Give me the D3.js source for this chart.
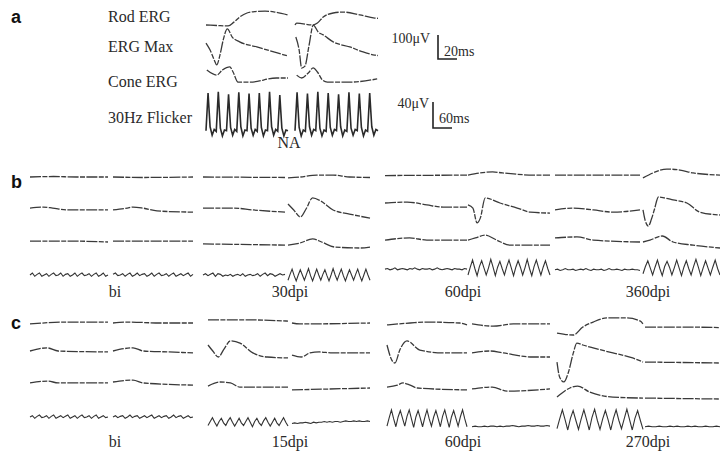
<!DOCTYPE html>
<html>
<head>
<meta charset="utf-8">
<script src="https://d3js.org/d3.v7.min.js"></script>
<style>
  body { margin: 0; background: #fff; }
  text { font-family: "Liberation Serif", "Times New Roman", serif; fill: #2a2a2a; }
  text.panel { font-family: "Liberation Sans", Arial, sans-serif; font-weight: bold; fill: #111; }
  path.erg { fill: none; stroke: #3a3a3a; stroke-width: 1.3; stroke-dasharray: 11,1.4,5,1.4; }
  path.flk { fill: none; stroke: #333; stroke-width: 1.1; }
  path.flk.big { stroke-width: 1.6; stroke: #2a2a2a; }
</style>
</head>
<body>
<script>
// ---------- data ----------
var rowLabels = ["Rod ERG", "ERG Max", "Cone ERG", "30Hz Flicker"];
var bGroups = ["bi", "30dpi", "60dpi", "360dpi"];
var cGroups = ["bi", "15dpi", "60dpi", "270dpi"];
var scaleText = ["100\u03bcV", "20ms", "40\u03bcV", "60ms"];

// ERG traces: [time %, \u03bcV]; flicker traces: \u03bcV samples at equal steps
var aRod = [
  [[0,0],[13,-2],[27,-4],[34,12],[41,33],[50,50],[60,56],[72,58],[84,54],[100,42]],
  [[0,0],[2,8],[22,0],[27,8],[34,33],[46,50],[58,54],[78,42],[96,29],[100,28]]
];
var aMax = [
  [[0,8],[5,-21],[10,-62],[13,-83],[17,-42],[21,21],[26,67],[32,33],[41,13],[62,-8],[87,-33],[100,-46]],
  [[1,33],[5,-21],[8,-96],[12,-88],[17,0],[22,83],[28,54],[34,42],[46,13],[66,-8],[82,-29],[96,-42],[100,-44]]
];
var aCone = [
  [[1,8],[13,-13],[20,8],[29,21],[33,0],[39,-42],[54,-42],[86,-25],[100,-25]],
  [[2,-13],[8,-25],[16,-4],[22,17],[27,0],[33,-33],[39,-42],[66,-42],[99,-29]]
];
var aFlicker = [
  [2,60,8,-5,4, 1,62,6,-6,3, 2,58,7,-5,4, 1,61,8,-6,3, 2,59,6,-5,4, 1,60,7,-6,3, 2,62,8,-5,4, 1,57,6,-6,3, 2],
  [2,61,7,-6,3, 1,59,8,-5,4, 2,62,6,-6,3, 1,60,7,-5,4, 2,58,8,-6,3, 1,61,6,-5,4, 2,59,7,-6,3, 1,60,8,-5,4, 2]
];

var bRod = [
  [[0,0],[30,2],[60,0],[100,0]],
  [[0,0],[40,-2],[100,0]],
  [[0,0],[100,-2]],
  [[0,-4],[15,0],[35,8],[55,8],[75,0],[100,-2]],
  [[0,6],[100,8]],
  [[0,8],[30,21],[42,17],[80,8],[100,8]],
  [[0,8],[100,8]],
  [[0,-4],[13,17],[31,33],[48,29],[65,17],[100,8]]
];
var bMax = [
  [[0,4],[17,8],[29,4],[47,-4],[100,-4]],
  [[0,-4],[18,4],[25,8],[37,4],[55,-8],[100,-13]],
  [[0,4],[37,4],[61,-4],[100,-13]],
  [[0,21],[7,-4],[15,-33],[22,0],[30,46],[40,33],[55,-4],[75,-21],[100,-38]],
  [[0,25],[27,29],[51,17],[71,8],[100,8]],
  [[0,17],[6,4],[11,-58],[15,-38],[21,46],[39,25],[60,4],[76,-13],[100,-17]],
  [[0,-4],[21,4],[45,-4],[68,-13],[100,-4]],
  [[0,-4],[3,-50],[7,-71],[11,-42],[15,0],[20,50],[28,46],[39,38],[57,25],[74,-13],[100,-25]]
];
var bCone = [
  [[0,4],[50,4],[100,0]],
  [[0,4],[100,4]],
  [[0,-8],[100,-13]],
  [[0,-13],[15,-4],[30,13],[41,0],[57,-21],[88,-25],[100,-21]],
  [[0,8],[30,17],[51,8],[100,8]],
  [[0,8],[9,17],[21,29],[35,8],[51,-13],[100,-13]],
  [[0,17],[26,21],[45,8],[100,0]],
  [[0,0],[9,8],[25,25],[39,0],[65,-13],[100,-25]]
];
var bFlicker = [
  [0,3,-2, 1,3,-2, 0,2,-2, 1,3,-1, 0,3,-2, 1,2,-2, 0,3,-2, 1,3,-1, 0,2,-2, 1,3,-2, 0,3,-2, 0],
  [1,3,-1, 0,2,-2, 1,3,-2, 0,3,-1, 1,2,-2, 0,3,-2, 1,3,-1, 0,2,-2, 1,3,-2, 0,2,-1, 1,3,-2, 1],
  [0,2,-1, 1,3,-2, 2,1,-2, 0,-1,1, -2,0,1, -1,2,-2, 0,1,-1, 0,2,-2, 1,3,-1, 2,1,-2, 0,2,0, 1],
  [-8,1,9,-1, -9,0,8,0, -8,1,10,-1, -9,0,9,0, -8,1,8,-1, -9,0,10,0, -8,1,9,-1, -9,0,8,0, -8,1,9,-1, -9,0,9,0, -8],
  [9,10,8,9,11,8,9,10,9,8,10,9,11,9,8,10,9,9,10,8,9,11,9,8,9,10,9,8,10,9,9,8,10,9],
  [0,12,23,10, -1,13,22,11, 0,11,24,12, -1,12,21,10, 0,13,23,11, -1,12,22,12, 0,11,24,10, -1,13,23,11, 0,12,22,10, 0],
  [8,9,7,8,10,8,8,9,7,8,9,8,10,8,7,9,8,8,9,7,8,10,8,8,9,8,7,9,8,8,9,8,8,7],
  [2,13,22,11, 0,12,23,10, -1,13,21,12, 0,11,23,11, -1,12,22,10, 0,13,24,12, -1,11,22,11, 0,12,23,10, 0]
];

var cRod = [
  [[0,-4],[47,4],[100,4]],
  [[0,0],[18,4],[59,0],[100,0]],
  [[0,13],[50,13],[100,8]],
  [[0,0],[10,-4],[100,0]],
  [[0,-8],[29,0],[50,4],[91,0],[100,-8]],
  [[0,-4],[27,-13],[53,-4],[100,-4]],
  [[0,-42],[19,-50],[30,-17],[42,4],[58,21],[81,21],[97,8],[100,-4]],
  [[0,-17],[50,-17],[100,-19]]
];
var cMax = [
  [[0,0],[22,13],[36,0],[100,-4]],
  [[0,0],[25,13],[38,0],[70,-4],[100,-8]],
  [[0,25],[6,0],[13,-25],[20,8],[28,42],[40,33],[56,-8],[74,-25],[100,-29]],
  [[0,-17],[12,-25],[23,-8],[35,-4],[52,-8],[100,-8]],
  [[0,25],[6,-38],[10,-50],[16,4],[25,42],[41,4],[70,-8],[100,-8]],
  [[0,-8],[23,0],[40,-8],[78,-25],[100,-25]],
  [[0,-46],[3,-108],[8,-129],[13,-92],[19,-8],[23,33],[30,25],[42,13],[65,-8],[88,-29],[100,-46]],
  [[0,-46],[100,-50]]
];
var cCone = [
  [[0,-4],[23,4],[36,-4],[100,-4]],
  [[0,0],[25,8],[38,-4],[100,-13]],
  [[0,-17],[15,0],[28,-4],[40,-21],[100,-21]],
  [[0,-33],[100,-25]],
  [[0,-21],[13,-13],[20,-4],[29,-13],[38,-25],[100,-33]],
  [[0,-29],[26,-21],[45,-38],[100,-29]],
  [[0,-63],[15,-25],[24,-17],[38,-42],[65,-63],[100,-67]],
  [[0,-67],[100,-71]]
];
var cFlicker = [
  [0,2,-2, 1,3,-1, 0,2,-2, 1,3,-2, 0,2,-1, 1,3,-2, 0,2,-2, 1,3,-1, 0,2,-2, 1,3,-2, 0,2,-1, 0],
  [0,2,-1, 1,2,-2, 0,3,-1, 1,2,-2, 0,2,-1, 1,3,-2, 0,2,-1, 1,2,-2, 0,3,-1, 1,2,-2, 0,2,-1, 0],
  [-13,-7,-1,-8, -14,-7,-2,-9, -13,-6,-1,-8, -14,-8,-2,-9, -13,-7,-1,-8, -15,-7,-2,-9, -13,-6,-1,-8, -14,-8,-2,-9, -13,-7,-1,-8, -14],
  [-10,-9,-10,-9,-9,-8,-9,-10,-8,-9,-8,-8,-7,-8,-7,-8,-7,-7,-8,-7,-6,-7,-7,-6,-7,-6,-7,-7,-6,-7],
  [-14,-1,11,-3, -15,0,10,-2, -14,1,11,-3, -16,0,10,-2, -15,-1,11,-3, -14,0,10,-2, -15,1,11,-3, -16,0,10,-2, -14,0,11,-3, -15],
  [-15,-14,-15,-15,-14,-15,-14,-14,-15,-14,-15,-14,-14,-13,-14,-15,-14,-14,-13,-14,-14,-13,-14,-14,-13,-14],
  [-18,-3,11,-4, -20,-2,10,-5, -19,-3,11,-4, -20,-1,12,-5, -19,-3,10,-4, -20,-2,11,-5, -18,-3,12,-4, -20,-2,10,-5, -19],
  [-15,-14,-15,-15,-14,-15,-15,-14,-15,-14,-15,-15,-14,-15,-14,-15,-15,-14,-15,-15,-14,-15]
];

// ---------- layout ----------
var svg = d3.select("body").append("svg")
    .attr("width", 720)
    .attr("height", 453);

var ergY = d3.scaleLinear().domain([0, 100]).range([0, -24]);   // 100 µV bar
var flkY = d3.scaleLinear().domain([0, 40]).range([0, -26]);    // 40 µV bar
var ergT = d3.scaleLinear().domain([0, 20]).range([0, 19]);     // 20 ms bar
var flkT = d3.scaleLinear().domain([0, 60]).range([0, 19]);     // 60 ms bar

var panels = [
  { rows: [aRod, aMax, aCone, aFlicker], base: [25, 45, 72, 132], big: true,
    segs: [[206, 288], [295, 378]] },
  { rows: [bRod, bMax, bCone, bFlicker], base: [177, 209, 242, 275],
    segs: [[30, 108], [113, 193], [203, 285], [288, 370], [385, 467], [468, 550], [555, 640], [643, 720]] },
  { rows: [cRod, cMax, cCone, cFlicker], base: [323, 351, 382, 417],
    segs: [[30, 108], [113, 193], [208, 288], [292, 370], [387, 467], [472, 550], [557, 643], [645, 720]] }
];

function drawTrace(pts, seg, base, flicker, big) {
  var x, line;
  if (flicker) {
    x = d3.scaleLinear().domain([0, pts.length - 1]).range(seg);
    line = d3.line().x(function(d, i) { return x(i); }).y(function(d) { return base + flkY(d); });
  } else {
    x = d3.scaleLinear().domain([0, 100]).range(seg);
    line = d3.line().x(function(d) { return x(d[0]); }).y(function(d) { return base + ergY(d[1]); })
      .curve(d3.curveMonotoneX);
  }
  svg.append("path")
    .attr("class", flicker ? (big ? "flk big" : "flk") : "erg")
    .attr("d", line(pts));
}

panels.forEach(function(p) {
  p.rows.forEach(function(row, r) {
    row.forEach(function(pts, s) {
      drawTrace(pts, p.segs[s], p.base[r], r === 3, p.big);
    });
  });
});

// panel letters
svg.selectAll("text.panel")
  .data([["a", 23], ["b", 188], ["c", 329]])
  .enter().append("text")
  .attr("class", "panel")
  .attr("x", 11).attr("y", function(d) { return d[1]; })
  .style("font-size", "18px")
  .text(function(d) { return d[0]; });

// row labels in panel a
var labelY = [22, 52, 87, 123];
svg.selectAll("text.row")
  .data(rowLabels)
  .enter().append("text")
  .attr("class", "row")
  .attr("x", 108).attr("y", function(d, i) { return labelY[i]; })
  .style("font-size", "16px")
  .text(function(d) { return d; });

svg.append("text").attr("x", 289).attr("y", 148)
  .attr("text-anchor", "middle").style("font-size", "16px").text("NA");

// group labels under b and c
var groupX = [115, 290, 463, 648];
[[bGroups, 297], [cGroups, 447]].forEach(function(g) {
  svg.selectAll(null)
    .data(g[0])
    .enter().append("text")
    .attr("x", function(d, i) { return groupX[i]; })
    .attr("y", g[1])
    .attr("text-anchor", "middle")
    .style("font-size", "16px")
    .text(function(d) { return d; });
});

// scale bars
function scaleBar(x, y, h, w) {
  svg.append("path")
    .attr("d", "M" + x + "," + (y - h) + "V" + y + "H" + (x + w))
    .attr("fill", "none").attr("stroke", "#222").attr("stroke-width", 1.6);
}
scaleBar(438, 59, -ergY(100), ergT(20));
scaleBar(433, 128, -flkY(40), flkT(60));

svg.append("text").attr("x", 430).attr("y", 43).attr("text-anchor", "end")
  .style("font-size", "14px").text(scaleText[0]);
svg.append("text").attr("x", 444).attr("y", 56).style("font-size", "14px").text(scaleText[1]);
svg.append("text").attr("x", 429).attr("y", 108).attr("text-anchor", "end")
  .style("font-size", "14px").text(scaleText[2]);
svg.append("text").attr("x", 439).attr("y", 123).style("font-size", "14px").text(scaleText[3]);
</script>
</body>
</html>
